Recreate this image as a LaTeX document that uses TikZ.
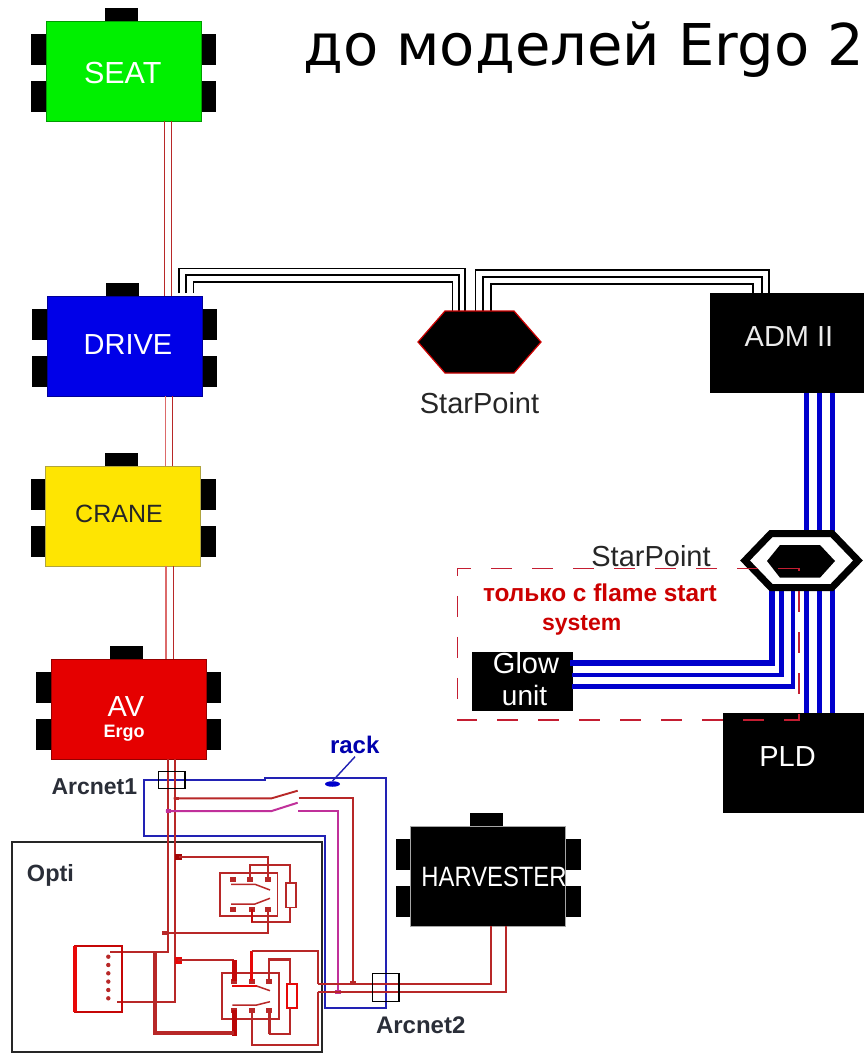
\documentclass[tikz,border=0pt]{standalone}
\usepackage{fontspec}
\usetikzlibrary{shapes.geometric}
\setmainfont{Liberation Sans}
\newfontfamily\titlefont{DejaVu Sans}
\definecolor{wred}{HTML}{B82828}
\definecolor{bred}{HTML}{E80808}
\definecolor{pinkw}{HTML}{DC6A6A}
\definecolor{magw}{HTML}{C0309A}
\definecolor{bluew}{HTML}{2222B4}
\definecolor{bluet}{HTML}{0000CC}
\definecolor{txtdark}{HTML}{2A2E38}
\definecolor{dashred}{HTML}{C41E32}
\tikzset{
  tabbox/.style={fill=black,draw=none,anchor=north west,inner sep=0,outer sep=0},
  body/.style={anchor=north west,inner sep=0,outer sep=0,minimum width=155,minimum height=100},
  lab/.style={anchor=base,inner sep=0,outer sep=0,font=\fontsize{#1}{#1}\selectfont},
  blab/.style={anchor=base west,inner sep=0,outer sep=0,font=\fontsize{#1}{#1}\selectfont\bfseries},
  plainbox/.style={fill=black,inner sep=0,outer sep=0,anchor=north west},
  blackw/.style={draw=black,line width=1.8},
  redw/.style={draw=wred,line width=1.9},
  thinred/.style={draw=wred,line width=1.5},
  pinkline/.style={draw=pinkw,line width=1.4},
  thick red/.style={draw=bred,line width=5},
  fatw/.style={draw=wred,line width=3.6},
  bluefat/.style={draw=bluet,line width=5},
  loopw/.style={draw=bluew,line width=2},
  magline/.style={draw=magw,line width=2},
  contact/.style={fill=wred,inner sep=0,outer sep=0,minimum width=6,minimum height=5},
  relaybox/.style={draw=wred,line width=1.6,fill=none,inner sep=0,outer sep=0,anchor=north west},
  hexframe/.style={inner sep=0,outer sep=0,draw=none},
  connbox/.style={draw=black,line width=1.5,fill=none,inner sep=0,outer sep=0,anchor=north west},
}
% #1 name, #2 x, #3 y, #4 fill
\newcommand{\ecubox}[4]{%
  \node[tabbox,minimum width=33,minimum height=14] (#1t) at (#2+59,#3-13) {};
  \node[tabbox,minimum width=15,minimum height=31] (#1la) at (#2-15,#3+13) {};
  \node[tabbox,minimum width=15,minimum height=31] (#1lb) at (#2-15,#3+60) {};
  \node[tabbox,minimum width=15,minimum height=31] (#1ra) at (#2+155,#3+13) {};
  \node[tabbox,minimum width=15,minimum height=31] (#1rb) at (#2+155,#3+60) {};
  \node[body,fill=#4,draw=#4!65!black,line width=.8] (#1) at (#2,#3) {};
}
\begin{document}
\begin{tikzpicture}[x=1pt,y=-1pt]
\useasboundingbox (0,0) rectangle (864,1054);
\fill[white] (0,0) rectangle (864,1054);

% ---- boxes ----
\ecubox{seat}{46}{21}{green!94!black}
\ecubox{drive}{47}{296}{blue!91!black}
\ecubox{crane}{45.5}{466}{yellow!94!red}
\ecubox{av}{51}{659}{red!90!black}
\ecubox{harv}{410.5}{826}{black}
\draw[black!35,line width=1] (harv.north west) rectangle (harv.south east);
\node[plainbox,minimum width=154,minimum height=100] (adm) at (710,293) {};
\node[plainbox,minimum width=142,minimum height=100.5] (pld) at (722.5,712.7) {};
\node[plainbox,minimum width=101,minimum height=59] (glow) at (471.7,651.7) {};

% ---- coordinates for hexagons ----
\node[hexframe,minimum width=123,minimum height=62] (sp1) at (479.5,342) {};
\node[hexframe,minimum width=123,minimum height=61] (sp2) at (801.5,560.5) {};

% ---- red bus ----
\draw[redw,line width=1.5] (164.5,0 |- seat.south) -- (164.5,0 |- drive.north);
\draw[redw,line width=1.5] (171.5,0 |- seat.south) -- (171.5,0 |- drive.north);
\draw[pinkline] (165.5,0 |- drive.south) -- (165.5,0 |- crane.north);
\draw[redw,line width=1.5] (172.7,0 |- drive.south) -- (172.7,0 |- crane.north);
\draw[pinkline] (166,0 |- crane.south) -- (166,0 |- av.north);
\draw[redw,line width=1.5] (173.3,0 |- crane.south) -- (173.3,0 |- av.north);

% ---- black triple lines ----
\draw[blackw] (179,293) -- (179,268.5) -- (465,268.5) -- (465,0 |- sp1.north);
\draw[blackw] (186,293) -- (186,275) -- (459,275) -- (459,0 |- sp1.north);
\draw[blackw] (193.5,293) -- (193.5,282) -- (452.5,282) -- (452.5,0 |- sp1.north);
\draw[blackw] (475.5,0 |- sp1.north) -- (475.5,270) -- (769.3,270) -- (769.3,0 |- adm.north);
\draw[blackw] (483,0 |- sp1.north) -- (483,277) -- (761.7,277) -- (761.7,0 |- adm.north);
\draw[blackw] (491,0 |- sp1.north) -- (491,284) -- (752.7,284) -- (752.7,0 |- adm.north);

% ---- blue triple lines ----
\foreach \bx in {806,819,832}{
  \draw[bluefat] (\bx,0 |- adm.south) -- (\bx,0 |- pld.north);
}
\draw[bluet,line width=6] (771.7,585) -- (771.7,663) -- (570,663);
\draw[bluet,line width=4.6] (781.7,585) -- (781.7,675) -- (572,675);
\draw[bluet,line width=4.6] (793,585) -- (793,686.7) -- (572,686.7);

% ---- hexagons ----
\draw[fill=black,draw=red!80!black,line width=1.2]
  (sp1.west) -- (445,311) -- (514,311) -- (sp1.east) -- (514,373) -- (445,373) -- cycle;
\draw[fill=white,draw=black,line width=7,line join=miter]
  (745,560.5) -- (771,533.5) -- (832,533.5) -- (858,560.5) -- (832,587.5) -- (771,587.5) -- cycle;
\draw[fill=black,draw=none]
  (767,561) -- (780,545) -- (820,545) -- (835,561) -- (820,577.7) -- (780,577.7) -- cycle;

% ---- texts ----
\node[anchor=base west,inner sep=0,font=\titlefont\fontsize{57.6}{58}\selectfont] (title) at (303,66) {до моделей Ergo 2};
\node[lab=30.5,text=white] (seatl) at (122.7,83.3) {SEAT};
\node[lab=29,text=white] (drivel) at (128,354) {DRIVE};
\node[lab=25,text=black!85] (cranel) at (119,522.7) {CRANE};
\node[lab=29,text=white] (avl) at (126,716) {AV};
\node[blab=18,text=white,anchor=base] (ergol) at (124,737) {Ergo};
\node[lab=29,text=white!92!black] (adml) at (789,346.7) {ADM II};
\node[lab=29,text=white] (pldl) at (787.5,766) {PLD};
\node[lab=28,text=white,xscale=.85,transform shape] (harvl) at (494,886) {HARVESTER};
\node[lab=29,text=white] (glowl) at (526,673) {Glow};
\node[lab=28,text=white] (unitl) at (524.5,705.7) {unit};
\node[lab=29,text=black!85] (sp1l) at (479.5,413) {StarPoint};
\node[lab=29,text=black!85] (sp2l) at (651,566) {StarPoint};
\node[blab=24.4,text=red!80!black] (only) at (483,601.7) {только с flame start};
\node[blab=23,text=red!80!black] (sysl) at (542,630) {system};
\node[blab=24,text=bluet!85!black] (rackl) at (330,753) {rack};
\node[blab=23,text=txtdark] (arc1l) at (51.5,794) {Arcnet1};
\node[blab=24,text=txtdark] (arc2l) at (376,1033) {Arcnet2};
\node[blab=23.5,text=txtdark] (optil) at (27,881.7) {Opti};

% ---- Opti frame ----
\node[draw=black!85,line width=2,inner sep=0,outer sep=0,anchor=north west,minimum width=310,minimum height=210.5] (opti) at (11.7,841.7) {};

% ---- rack loop ----
\node[fill=bluet,ellipse,inner sep=0,minimum width=15,minimum height=5.5] (fuse) at (332.5,784) {};
\draw[loopw] (144.3,780) -- (265,780) -- (265,778.3) -- (386,778.3) -- (386,1008.3) -- (325,1008.3) -- (325,835.7) -- (144.3,835.7) -- cycle;
\draw[bluew,line width=1.4] (355,756.7) -- (fuse.north);

% ---- AV down bus ----
\coordinate (busL) at (168.3,951.7);
\coordinate (busR) at (175,1001.7);
\draw[redw] (168.3,0 |- av.south) -- (busL) -- (110,951.7);
\draw[redw] (175,0 |- av.south) -- (busR) -- (116.7,1001.7);

% ---- key switch ----
\node[contact,minimum width=5,minimum height=3] (tapr) at (176,798.3) {};
\node[contact,fill=magw,minimum width=5,minimum height=4] (tapm) at (168.3,811) {};
\coordinate (swr) at (271.7,798.3);
\coordinate (swm) at (271.7,811);
\node[contact,minimum width=6,minimum height=4] (tapr2) at (352.7,983.3) {};
\node[contact,fill=magw,minimum width=6,minimum height=4] (tapm2) at (337.7,991.7) {};
\draw[redw] (tapr.west) -- (swr) -- (297.7,790.7);
\draw[magline] (tapm.west) -- (swm) -- (297.7,802.7);
\draw[redw] (298.7,798.3) -- (352.7,798.3) -- (tapr2.center);
\draw[magline] (298,811) -- (337.7,811) -- (tapm2.center);

% ---- upper relay ----
\node[relaybox,minimum width=57.3,minimum height=43] (ur) at (220,872.7) {};
\node[relaybox,minimum width=9.7,minimum height=24.6] (ucoil) at (286,882.7) {};
\node[contact] (ua) at (233.3,879) {};
\node[contact] (ub) at (250,879) {};
\node[contact] (uc) at (267.7,879) {};
\node[contact] (ud) at (233.3,909) {};
\node[contact] (ue) at (252,909) {};
\node[contact] (uf) at (267.7,909) {};
\node[contact,fill=bred!70!black,minimum width=7,minimum height=6] (ut) at (178.7,856.7) {};
\node[contact,minimum height=4] (ub2) at (165,933.3) {};
\draw[redw] (ut.center) -- (uc.center |- ut.center) -- (uc.center);
\draw[redw] (ub.center) -- (250,865) -- (290,865) -- (290,0 |- ucoil.north);
\draw[redw] (290,0 |- ucoil.south) -- (290,921.7) -- (252,921.7) -- (ue.center);
\draw[draw=bred!85!black,line width=2.4] (252,921.7) -- (ue.center);
\draw[redw] (uf.center) -- (267.7,933.3) -- (ub2.center);
\draw[thinred] (231,884.3) -- (255,884.3) -- (270,890);
\draw[thinred] (231,904) -- (255,904) -- (270,898.3);

% ---- lower relay ----
\node[relaybox,minimum width=57.3,minimum height=46.3,line width=1.8] (lr) at (221.7,972.7) {};
\node[relaybox,draw=bred,line width=2,minimum width=10.6,minimum height=24.3] (lcoil) at (286.7,984) {};
\node[contact] (la) at (234.3,981) {};
\node[contact] (lb) at (251.7,981) {};
\node[contact] (lc) at (269,981) {};
\node[contact] (ld) at (234.3,1010) {};
\node[contact] (le) at (251.7,1010) {};
\node[contact] (lf) at (269,1010) {};
\node[contact,fill=bred,minimum width=7,minimum height=7] (lt) at (178.3,960) {};
\draw[redw] (lt.center) -- (234.3,960);
\draw[thick red,draw=bred!85!black] (234.3,960) -- (la.center);
\draw[draw=bred,line width=3] (lb.center) -- (251.7,951);
\draw[redw] (251.7,951) -- (317.7,951) -- (317.7,984);
\draw[draw=wred,line width=2.4] (lc.center) -- (269,959.3) -- (290,959.3) -- (290,0 |- lcoil.north);
\draw[redw] (290,0 |- lcoil.south) -- (290,1034.3) -- (269,1034.3);
\draw[draw=wred,line width=3] (269,1034.3) -- (lf.center);
\draw[thick red,draw=bred!80!black] (ld.center) -- (234.3,1036);
\draw[fatw] (155,951.7) -- (155,1032.7) -- (234,1032.7);
\draw[redw] (317.7,992.3) -- (317.7,1045) -- (251.7,1045) -- (le.center);
\draw[draw=bred,line width=1.8] (232.3,986) -- (256.7,986);
\draw[thinred] (256.7,986) -- (270,990.7);
\draw[thinred] (232.3,1005) -- (256.7,1005) -- (270,1001.7);

% ---- coil box ----
\node[relaybox,draw=bred!85!black,line width=1.8,minimum width=47.3,minimum height=65.7] (cb) at (75,946) {};
\draw[draw=bred,line width=3.2] (cb.south west) -- (cb.north west);
\foreach \cy in {956.7,965,973.3,981.6,990,998.3}{
  \fill[wred] (108.3,\cy) circle (2.2);
}

% ---- harvester wires ----
\draw[redw] (317.7,984.3) -- (491,984.3) -- (491,0 |- harv.south);
\draw[redw] (317.7,992.3) -- (506,992.3) -- (506,0 |- harv.south);

% ---- Arcnet boxes ----
\node[connbox,minimum width=26.3,minimum height=17.4] (arc1) at (158.7,771.3) {};
\node[connbox,minimum width=26.7,minimum height=28.4] (arc2) at (372.3,973.3) {};

% ---- dashed frame ----
\draw[dashred,line width=1.6,dash pattern=on 21 off 20] (798.7,568.3) -- (457.3,568.3) -- (457.3,720) -- (798.7,720) -- cycle;
\end{tikzpicture}
\end{document}
